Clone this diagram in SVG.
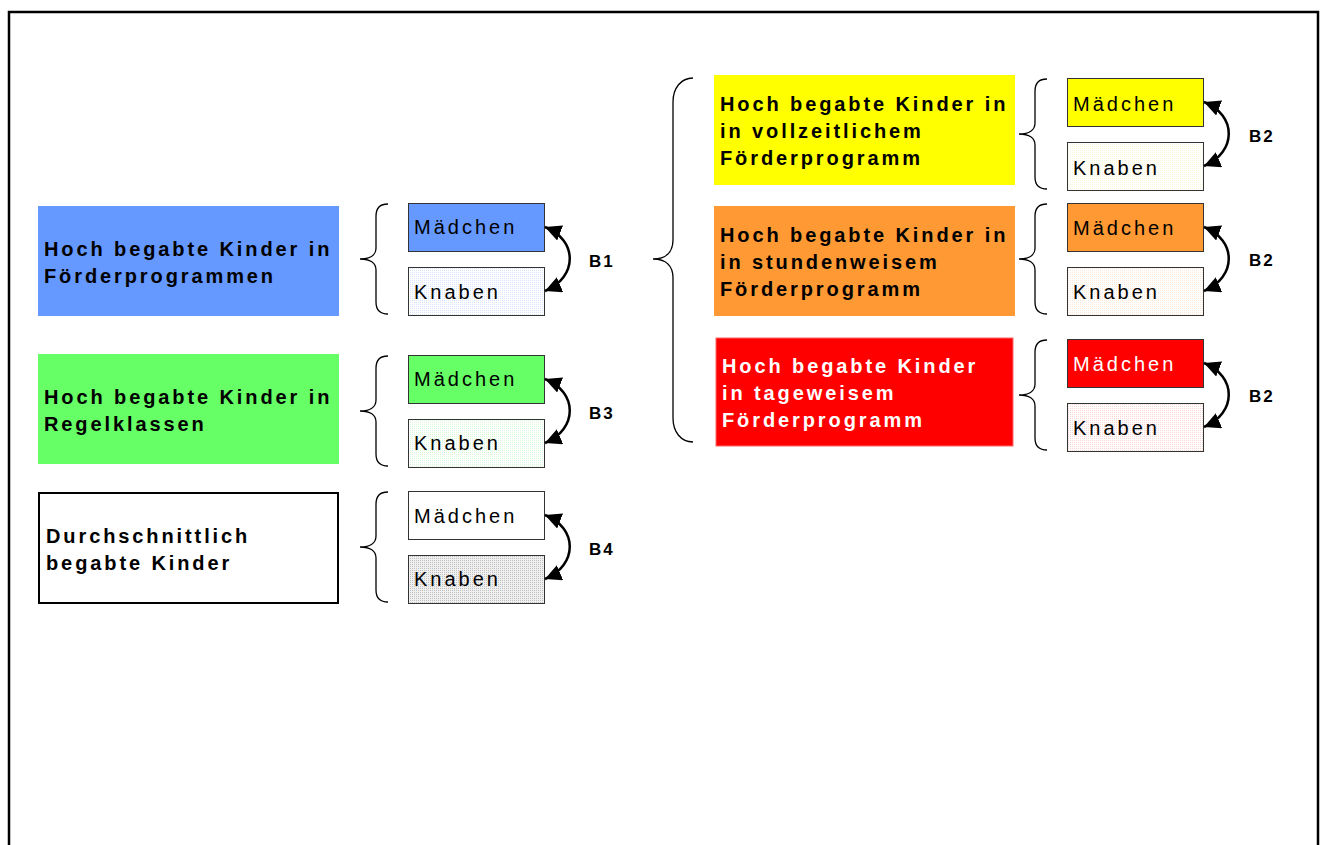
<svg xmlns="http://www.w3.org/2000/svg" width="1323" height="845" viewBox="0 0 1323 845">
<style>
.big{font-family:"Liberation Sans",Arial,sans-serif;font-weight:bold;font-size:20px;letter-spacing:2.9px;fill:#000}
.sm{font-family:"Liberation Sans",Arial,sans-serif;font-size:20px;letter-spacing:3px;fill:#000}
.lab{font-family:"Liberation Sans",Arial,sans-serif;font-weight:bold;font-size:17px;letter-spacing:2px;fill:#000}
.w{fill:#fff}
.box{stroke:#333;stroke-width:1}
.brace{fill:none;stroke:#000;stroke-width:1.3}
.arr{fill:none;stroke:#000;stroke-width:2.5;marker-start:url(#ah);marker-end:url(#ah)}
</style>
<defs>
<marker id="ah" viewBox="0 0 10 10" refX="10" refY="5" markerWidth="6.5" markerHeight="6.5" orient="auto-start-reverse" markerUnits="strokeWidth">
<path d="M0,0 L10,5 L0,10 Z" fill="#000"/>
</marker>
<pattern id="pBlue" width="2" height="2" patternUnits="userSpaceOnUse"><rect width="2" height="2" fill="#fff"/><rect width="1" height="1" fill="#d8e4ff"/></pattern>
<pattern id="pGreen" width="2" height="2" patternUnits="userSpaceOnUse"><rect width="2" height="2" fill="#fff"/><rect width="1" height="1" fill="#d8f8d8"/></pattern>
<pattern id="pGray" width="2" height="2" patternUnits="userSpaceOnUse"><rect width="2" height="2" fill="#f0f0f0"/><rect width="1" height="1" fill="#c0c0c0"/></pattern>
<pattern id="pYellow" width="2" height="2" patternUnits="userSpaceOnUse"><rect width="2" height="2" fill="#fff"/><rect width="1" height="1" fill="#f8f8d8"/></pattern>
<pattern id="pOrange" width="2" height="2" patternUnits="userSpaceOnUse"><rect width="2" height="2" fill="#fff"/><rect width="1" height="1" fill="#fde8d8"/></pattern>
<pattern id="pRed" width="2" height="2" patternUnits="userSpaceOnUse"><rect width="2" height="2" fill="#fff"/><rect width="1" height="1" fill="#fcd4d4"/></pattern>
</defs>
<rect width="1323" height="845" fill="#fff"/>
<path d="M9,850 V12 H1318 V850" fill="none" stroke="#000" stroke-width="2.5"/>

<g id="n-blue">
<rect x="38" y="206" width="301" height="110" fill="#6699ff"/>
<text class="big" x="44" y="256">Hoch begabte Kinder in</text>
<text class="big" x="44" y="283">Förderprogrammen</text>
</g>
<g id="n-green">
<rect x="38" y="354" width="301" height="110" fill="#66ff66"/>
<text class="big" x="44" y="404">Hoch begabte Kinder in</text>
<text class="big" x="44" y="431">Regelklassen</text>
</g>
<g id="n-white">
<rect x="39" y="493" width="299" height="110" fill="#fff" stroke="#000" stroke-width="2"/>
<text class="big" x="46" y="543">Durchschnittlich</text>
<text class="big" x="46" y="570">begabte Kinder</text>
</g>
<g id="n-yellow">
<rect x="714" y="75" width="301" height="110" fill="#ffff00"/>
<text class="big" x="720" y="111">Hoch begabte Kinder in</text>
<text class="big" x="720" y="138">in vollzeitlichem</text>
<text class="big" x="720" y="165">Förderprogramm</text>
</g>
<g id="n-orange">
<rect x="714" y="206" width="301" height="110" fill="#ff9933"/>
<text class="big" x="720" y="242">Hoch begabte Kinder in</text>
<text class="big" x="720" y="269">in stundenweisem</text>
<text class="big" x="720" y="296">Förderprogramm</text>
</g>
<g id="n-red">
<rect x="716" y="338" width="297" height="108" fill="#ff0000" stroke="#ff6666" stroke-width="1"/>
<text class="big w" x="722" y="373">Hoch begabte Kinder</text>
<text class="big w" x="722" y="400">in tageweisem</text>
<text class="big w" x="722" y="427">Förderprogramm</text>
</g>

<g id="m-blue"><rect class="box" x="408.5" y="203.5" width="136" height="48" fill="#6699ff"/><text class="sm" x="414" y="234">Mädchen</text></g>
<g id="k-blue"><rect class="box" x="408.5" y="267.5" width="136" height="48" fill="url(#pBlue)"/><text class="sm" x="414" y="299">Knaben</text></g>
<g id="m-green"><rect class="box" x="408.5" y="355.5" width="136" height="48" fill="#66ff66"/><text class="sm" x="414" y="386">Mädchen</text></g>
<g id="k-green"><rect class="box" x="408.5" y="419.5" width="136" height="48" fill="url(#pGreen)"/><text class="sm" x="414" y="450">Knaben</text></g>
<g id="m-white"><rect class="box" x="408.5" y="491.5" width="136" height="48" fill="#fff"/><text class="sm" x="414" y="523">Mädchen</text></g>
<g id="k-white"><rect class="box" x="408.5" y="555.5" width="136" height="48" fill="url(#pGray)"/><text class="sm" x="414" y="586">Knaben</text></g>
<g id="m-yellow"><rect class="box" x="1067.5" y="78.5" width="136" height="48" fill="#ffff00"/><text class="sm" x="1073" y="111">Mädchen</text></g>
<g id="k-yellow"><rect class="box" x="1067.5" y="142.5" width="136" height="48" fill="url(#pYellow)"/><text class="sm" x="1073" y="175">Knaben</text></g>
<g id="m-orange"><rect class="box" x="1067.5" y="203.5" width="136" height="48" fill="#ff9933"/><text class="sm" x="1073" y="235">Mädchen</text></g>
<g id="k-orange"><rect class="box" x="1067.5" y="267.5" width="136" height="48" fill="url(#pOrange)"/><text class="sm" x="1073" y="299">Knaben</text></g>
<g id="m-red"><rect class="box" x="1067.5" y="339.5" width="136" height="48" fill="#ff0000"/><text class="sm w" x="1073" y="371">Mädchen</text></g>
<g id="k-red"><rect class="box" x="1067.5" y="403.5" width="136" height="48" fill="url(#pRed)"/><text class="sm" x="1073" y="435">Knaben</text></g>

<g id="connectors">
<path class="brace" d="M388,204 C380,204 376,208 376,216 V248 C376,255 370,259 360,259 C370,259 376,263 376,270 V302 C376,310 380,314 388,314"/>
<path class="brace" d="M388,356 C380,356 376,360 376,368 V400 C376,407 370,411 360,411 C370,411 376,415 376,422 V454 C376,462 380,466 388,466"/>
<path class="brace" d="M388,492 C380,492 376,496 376,504 V536 C376,543 370,547 360,547 C370,547 376,551 376,558 V590 C376,598 380,602 388,602"/>
<path class="brace" d="M1047,79 C1039,79 1035,83 1035,91 V123 C1035,130 1029,134 1019,134 C1029,134 1035,138 1035,145 V177 C1035,185 1039,189 1047,189"/>
<path class="brace" d="M1047,204 C1039,204 1035,208 1035,216 V248 C1035,255 1029,259 1019,259 C1029,259 1035,263 1035,270 V302 C1035,310 1039,314 1047,314"/>
<path class="brace" d="M1047,340 C1039,340 1035,344 1035,352 V384 C1035,391 1029,395 1019,395 C1029,395 1035,399 1035,406 V438 C1035,446 1039,450 1047,450"/>
<path class="brace" d="M693,78 C681,78 673,88 673,102 V240 C673,252 666,259 653,259 C666,259 673,266 673,278 V418 C673,432 681,442 693,442"/>

<path class="arr" d="M545,227 C578,240 578,277 545,291"/>
<path class="arr" d="M545,379 C578,392 578,429 545,443"/>
<path class="arr" d="M545,515 C578,528 578,565 545,579"/>
<path class="arr" d="M1204,102 C1237,115 1237,152 1204,166"/>
<path class="arr" d="M1204,227 C1237,240 1237,277 1204,291"/>
<path class="arr" d="M1204,363 C1237,376 1237,413 1204,427"/>

<text class="lab" x="589" y="267">B1</text>
<text class="lab" x="589" y="419">B3</text>
<text class="lab" x="589" y="555">B4</text>
<text class="lab" x="1249" y="142">B2</text>
<text class="lab" x="1249" y="266">B2</text>
<text class="lab" x="1249" y="402">B2</text>
</g>
</svg>
